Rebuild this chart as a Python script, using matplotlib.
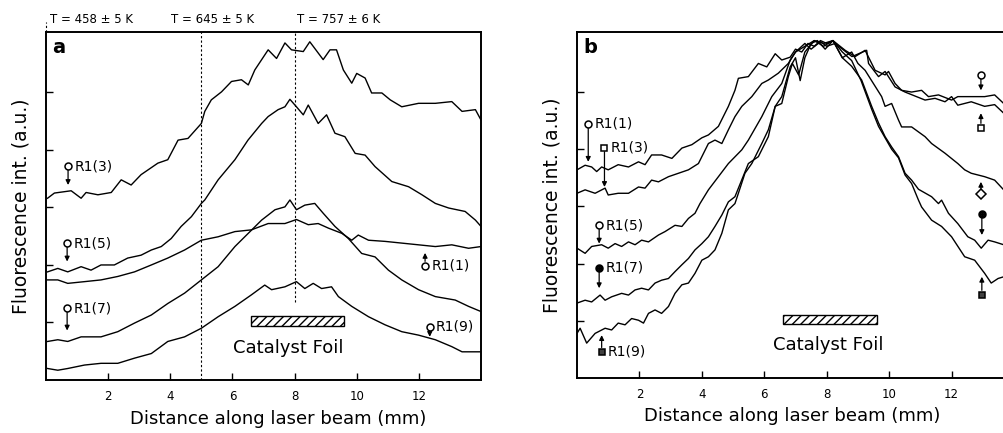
import matplotlib
matplotlib.use('Agg')
import matplotlib.pyplot as plt

plt.rcParams['font.family'] = ['DejaVu Sans']

# ---- panel a : raw profiles ----
a_x_r3 = [0.05, 0.27, 0.81, 1.13, 1.29, 1.67, 2.10, 2.42, 2.74, 3.06, 3.60, 3.92, 4.25, 4.57, 5.0, 5.11,
          5.32, 5.65, 5.97, 6.29, 6.51, 6.72, 7.15, 7.42, 7.69, 7.90, 8.28, 8.49, 8.92, 9.14, 9.35, 9.57,
          9.84, 10.0, 10.27, 10.48, 10.81, 11.08, 11.45, 11.99, 12.53, 13.06, 13.39, 13.82, 14.0]
a_y_r3 = [3.16, 3.25, 3.29, 3.16, 3.26, 3.22, 3.26, 3.48, 3.39, 3.57, 3.77, 3.83, 4.17, 4.20, 4.46, 4.67,
          4.87, 5.01, 5.19, 5.22, 5.13, 5.39, 5.74, 5.59, 5.86, 5.74, 5.71, 5.88, 5.57, 5.74, 5.74, 5.39,
          5.16, 5.33, 5.25, 4.99, 4.99, 4.87, 4.75, 4.81, 4.81, 4.84, 4.67, 4.70, 4.52]

a_x_r5 = [0.05, 0.38, 0.70, 1.13, 1.45, 1.77, 2.20, 2.63, 3.06, 3.39, 3.71, 4.03, 4.35, 4.68, 5.0, 5.11,
          5.54, 6.08, 6.50, 6.94, 7.15, 7.47, 7.69, 7.85, 8.06, 8.28, 8.44, 8.76, 9.03, 9.30, 9.62, 9.95,
          10.27, 10.59, 11.13, 11.67, 12.10, 12.53, 12.96, 13.49, 13.82, 14.0]
a_y_r5 = [1.88, 1.94, 1.88, 1.97, 1.91, 2.00, 2.00, 2.12, 2.17, 2.26, 2.32, 2.46, 2.67, 2.84, 3.07, 3.13,
          3.48, 3.83, 4.17, 4.46, 4.58, 4.70, 4.75, 4.88, 4.75, 4.61, 4.78, 4.46, 4.61, 4.29, 4.23, 3.94,
          3.91, 3.71, 3.45, 3.36, 3.22, 3.07, 2.99, 2.93, 2.78, 2.67]

a_x_r1 = [0.05, 0.38, 0.70, 1.24, 1.77, 2.31, 2.85, 3.39, 3.92, 4.46, 5.0, 5.54, 6.08, 6.61, 7.15, 7.69,
          8.06, 8.44, 8.76, 9.09, 9.52, 9.84, 10.05, 10.38, 10.91, 11.45, 11.99, 12.53, 13.06, 13.60, 14.0]
a_y_r1 = [1.74, 1.74, 1.68, 1.71, 1.74, 1.80, 1.88, 2.00, 2.12, 2.26, 2.43, 2.49, 2.58, 2.61, 2.72, 2.72,
          2.79, 2.70, 2.72, 2.64, 2.55, 2.43, 2.52, 2.43, 2.41, 2.38, 2.35, 2.32, 2.35, 2.29, 2.32]

a_x_r7 = [0.05, 0.38, 0.70, 1.13, 1.77, 2.31, 2.85, 3.39, 3.92, 4.46, 5.0, 5.54, 6.08, 6.51, 6.94, 7.37,
          7.69, 7.85, 8.06, 8.33, 8.65, 8.92, 9.30, 9.73, 10.16, 10.59, 11.02, 11.45, 11.99, 12.53, 13.17,
          13.60, 14.0]
a_y_r7 = [0.67, 0.70, 0.67, 0.75, 0.75, 0.84, 0.99, 1.13, 1.33, 1.51, 1.74, 1.97, 2.32, 2.55, 2.78, 2.96,
          3.01, 3.13, 2.96, 3.04, 3.07, 2.90, 2.67, 2.46, 2.20, 2.14, 1.91, 1.74, 1.57, 1.45, 1.39,
          1.28, 1.19]

a_x_r9 = [0.05, 0.38, 0.70, 1.24, 1.77, 2.31, 2.85, 3.39, 3.92, 4.46, 5.0, 5.54, 6.08, 6.61, 7.04, 7.26,
          7.69, 8.06, 8.33, 8.60, 8.87, 9.19, 9.41, 9.84, 10.38, 10.91, 11.45, 11.99, 12.53, 13.06, 13.39, 14.0]
a_y_r9 = [0.20, 0.17, 0.20, 0.26, 0.29, 0.29, 0.38, 0.46, 0.67, 0.75, 0.90, 1.10, 1.28, 1.48, 1.65, 1.57,
          1.62, 1.71, 1.59, 1.68, 1.59, 1.62, 1.45, 1.28, 1.10, 0.96, 0.84, 0.78, 0.70, 0.58, 0.49, 0.49]

# ---- panel b : normalised profiles ----
b_x_r1 = [0.0, 0.26, 0.47, 0.63, 0.79, 1.0, 1.32, 1.65, 1.97, 2.18, 2.39, 2.71, 3.04, 3.36, 3.68, 4.0,
          4.21, 4.53, 4.85, 5.06, 5.17, 5.49, 5.81, 6.08, 6.35, 6.56, 6.83, 7.0, 7.2, 7.4, 7.6, 7.8, 8.0,
          8.2, 8.59, 8.91, 9.23, 9.55, 9.87, 9.98, 10.19, 10.40, 10.72, 11.04, 11.26, 11.58, 12.0, 12.2,
          12.63, 13.06, 13.38, 13.67, 14.0]
b_y_r1 = [3.64, 3.72, 3.69, 3.61, 3.69, 3.64, 3.73, 3.69, 3.78, 3.73, 3.90, 3.90, 3.84, 4.02, 4.08, 4.20,
          4.25, 4.40, 4.75, 5.03, 5.24, 5.27, 5.50, 5.44, 5.67, 5.56, 5.61, 5.75, 5.70, 5.85, 5.80, 5.90, 5.85,
          5.90, 5.73, 5.62, 5.73, 5.38, 5.30, 5.36, 5.15, 5.03, 5.00, 5.03, 4.92, 4.95, 4.86, 4.92,
          4.92, 4.92, 4.95, 4.80, 4.85]

b_x_r3 = [0.0, 0.26, 0.58, 0.90, 1.0, 1.32, 1.65, 1.97, 2.18, 2.39, 2.61, 2.93, 3.25, 3.57, 3.89, 4.21,
          4.42, 4.64, 4.85, 5.06, 5.28, 5.60, 5.92, 6.13, 6.45, 6.77, 7.0, 7.3, 7.5, 7.8, 8.0, 8.27, 8.81,
          9.28, 9.34, 9.66, 9.87, 10.19, 10.51, 11.15, 11.47, 11.79, 12.0, 12.2, 12.63, 13.06, 13.38, 13.67, 14.0]
b_y_r3 = [3.23, 3.29, 3.23, 3.32, 3.20, 3.23, 3.23, 3.34, 3.32, 3.46, 3.43, 3.52, 3.58, 3.64, 3.75, 4.10,
          4.16, 4.10, 4.34, 4.57, 4.75, 4.92, 5.15, 5.21, 5.33, 5.50, 5.70, 5.85, 5.75, 5.88, 5.80, 5.85, 5.62,
          5.73, 5.50, 5.27, 5.36, 5.09, 5.00, 4.86, 4.89, 4.83, 4.92, 4.77, 4.83, 4.75, 4.78, 4.63, 4.70]

b_x_r5 = [0.0, 0.26, 0.47, 0.79, 1.0, 1.22, 1.43, 1.65, 1.86, 2.07, 2.29, 2.61, 2.82, 3.14, 3.36, 3.57,
          3.78, 3.94, 4.21, 4.53, 4.85, 5.28, 5.49, 5.92, 6.24, 6.56, 6.83, 7.0, 7.3, 7.6, 7.9, 8.2, 8.5,
          8.8, 9.0, 9.23, 9.76, 9.87, 10.08, 10.30, 10.40, 10.72, 11.15, 11.36, 11.79, 12.2, 12.42, 12.63,
          13.06, 13.38, 13.67, 14.0]
b_y_r5 = [2.27, 2.18, 2.30, 2.33, 2.27, 2.35, 2.30, 2.38, 2.33, 2.41, 2.38, 2.50, 2.56, 2.67, 2.65, 2.79,
          2.88, 3.05, 3.29, 3.52, 3.75, 3.99, 4.16, 4.57, 4.92, 5.15, 5.56, 5.70, 5.80, 5.90, 5.80, 5.90, 5.60,
          5.70, 5.50, 5.38, 4.92, 4.75, 4.80, 4.51, 4.39, 4.39, 4.22, 4.10, 3.93, 3.75, 3.64, 3.58,
          3.52, 3.46, 3.29, 3.25]

b_x_r7 = [0.0, 0.26, 0.47, 0.74, 0.90, 1.11, 1.43, 1.65, 1.86, 2.07, 2.29, 2.50, 2.71, 2.93, 3.14, 3.36,
          3.57, 3.78, 4.0, 4.21, 4.42, 4.64, 4.85, 5.06, 5.49, 5.81, 6.13, 6.35, 6.56, 6.77, 6.9, 7.1, 7.3,
          7.6, 7.9, 8.2, 8.5, 8.8, 9.12, 9.44, 9.66, 9.87, 10.08, 10.30, 10.51, 10.72, 10.94, 11.36, 11.58,
          11.68, 11.90, 12.20, 12.52, 12.74, 12.95, 13.17, 13.38, 13.67, 14.0]
b_y_r7 = [1.31, 1.36, 1.33, 1.45, 1.36, 1.42, 1.48, 1.45, 1.54, 1.57, 1.54, 1.66, 1.71, 1.74, 1.86, 1.98,
          2.09, 2.24, 2.35, 2.47, 2.65, 2.85, 3.08, 3.17, 3.75, 3.87, 4.22, 4.75, 4.80, 5.27, 5.50, 5.30, 5.70,
          5.90, 5.85, 5.90, 5.60, 5.45, 5.21, 4.75, 4.46, 4.22, 4.04, 3.87, 3.58, 3.46, 3.30, 3.17, 3.05,
          3.11, 2.88, 2.70, 2.47, 2.41, 2.27, 2.41, 2.38, 2.33, 2.35]

b_x_r9 = [0.0, 0.10, 0.31, 0.58, 0.90, 1.11, 1.32, 1.54, 1.75, 1.97, 2.13, 2.29, 2.50, 2.71, 2.93, 3.14,
          3.36, 3.57, 3.78, 4.0, 4.21, 4.42, 4.64, 4.85, 5.06, 5.17, 5.38, 5.60, 5.92, 6.13, 6.35, 6.56, 6.83,
          7.0, 7.15, 7.3, 7.5, 7.7, 7.95, 8.2, 8.5, 8.8, 9.1, 9.44, 9.66, 9.87, 10.08, 10.30, 10.51, 10.72,
          10.94, 11.04, 11.36, 11.68, 12.0, 12.42, 12.74, 13.06, 13.27, 13.49, 13.67, 14.0]
b_y_r9 = [0.78, 0.87, 0.61, 0.78, 0.87, 0.84, 0.96, 0.93, 1.04, 1.01, 0.96, 1.13, 1.19, 1.13, 1.25, 1.48,
          1.63, 1.66, 1.83, 2.06, 2.12, 2.24, 2.53, 2.94, 3.05, 3.23, 3.58, 3.75, 4.10, 4.34, 4.75, 4.92, 5.44,
          5.60, 5.20, 5.60, 5.85, 5.90, 5.75, 5.90, 5.70, 5.55, 5.20, 4.70, 4.40, 4.20, 4.00, 3.85, 3.55, 3.40,
          3.11, 2.99, 2.76, 2.65, 2.47, 2.12, 2.06, 1.83, 1.66, 1.74, 1.77, 1.85]

temps = ['T = 458 ± 5 K', 'T = 645 ± 5 K', 'T = 757 ± 6 K']
temp_x = [1.48, 5.35, 9.42]
xticks = [2, 4, 6, 8, 10, 12]
foil = (6.6, 9.6)

fig = plt.figure(figsize=(10.04, 4.33), dpi=100)
ax1 = fig.add_axes([46/1004, 53/433, 435/1004, 348/433])
ax2 = fig.add_axes([577/1004, 55/433, 437/1004, 346/433])


def setup(ax, xlab_pos):
    ax.set_xlim(0, 14)
    ax.set_ylim(0, 6.05)
    ax.set_xticks(xticks)
    ax.set_yticks([1, 2, 3, 4, 5])
    ax.set_yticklabels([])
    ax.tick_params(direction='in', length=5, width=1, labelsize=8.5, pad=7)
    for s in ax.spines.values():
        s.set_linewidth(1.4)
    ax.set_xlabel('Distance along laser beam (mm)', fontsize=13)
    ax.xaxis.set_label_coords(xlab_pos, -0.085)
    ax.set_ylabel('Fluorescence int. (a.u.)', fontsize=13.5, labelpad=4)
    ax.add_patch(plt.Rectangle((foil[0], 0.94), foil[1] - foil[0], 0.17, facecolor='white',
                               edgecolor='k', hatch='////', lw=1.0))


def label(ax, x, y, tip, marker, text=None, fill='white'):
    ax.annotate('', xy=(x, tip), xytext=(x, y),
                arrowprops=dict(arrowstyle='-|>', lw=0.9, color='k', mutation_scale=7,
                                shrinkA=3, shrinkB=0))
    ax.plot([x], [y], marker=marker, ms=5, mfc=fill, mec='k', mew=1.1, zorder=5)
    if text:
        ax.text(x + 0.2, y, text, fontsize=10, va='center', ha='left')


# panel a
setup(ax1, 0.533)
for xs, ys in [(a_x_r3, a_y_r3), (a_x_r5, a_y_r5), (a_x_r1, a_y_r1), (a_x_r7, a_y_r7), (a_x_r9, a_y_r9)]:
    ax1.plot(xs, ys, color='k', lw=1.0)
ax1.axvline(5, color='k', ls=(0, (2, 2)), lw=0.8)
ax1.plot([8, 8], [1.36, 6.05], color='k', ls=(0, (2, 2)), lw=0.8)
ax1.plot([0, 0], [6.05, 6.22], color='k', ls=(0, (2, 2)), lw=0.8, clip_on=False)
for xt, t in zip(temp_x, temps):
    ax1.text(xt, 6.26, t, fontsize=8.5, ha='center', va='center')
ax1.text(0.2, 5.78, 'a', fontsize=14, fontweight='bold', va='center')
ax1.text(7.8, 0.55, 'Catalyst Foil', fontsize=13, ha='center', va='center')
label(ax1, 0.71, 3.72, 3.39, 'o', 'R1(3)')
label(ax1, 0.68, 2.38, 2.06, 'o', 'R1(5)')
label(ax1, 0.68, 1.25, 0.86, 'o', 'R1(7)')
label(ax1, 12.2, 1.99, 2.21, 'o', 'R1(1)')
label(ax1, 12.35, 0.93, 0.75, 'o', 'R1(9)')

# panel b
setup(ax2, 0.492)
for xs, ys in [(b_x_r1, b_y_r1), (b_x_r3, b_y_r3), (b_x_r5, b_y_r5), (b_x_r7, b_y_r7), (b_x_r9, b_y_r9)]:
    ax2.plot(xs, ys, color='k', lw=1.0)
ax2.text(0.2, 5.78, 'b', fontsize=14, fontweight='bold', va='center')
ax2.text(8.05, 0.58, 'Catalyst Foil', fontsize=13, ha='center', va='center')
label(ax2, 0.36, 4.45, 3.78, 'o', 'R1(1)')
label(ax2, 0.88, 4.03, 3.34, 's', 'R1(3)')
label(ax2, 0.71, 2.67, 2.35, 'o', 'R1(5)')
label(ax2, 0.71, 1.93, 1.57, '$\\oplus$', 'R1(7)', fill='k')
label(ax2, 0.79, 0.46, 0.75, 's', 'R1(9)', fill='0.25')
label(ax2, 12.94, 5.30, 5.03, 'o')
label(ax2, 12.94, 4.38, 4.63, 's')
label(ax2, 12.94, 3.22, 3.43, 'D')
label(ax2, 12.97, 2.87, 2.50, '$\\oplus$', fill='k')
label(ax2, 12.97, 1.46, 1.77, 's', fill='0.25')

fig.savefig('out.png', dpi=100)
